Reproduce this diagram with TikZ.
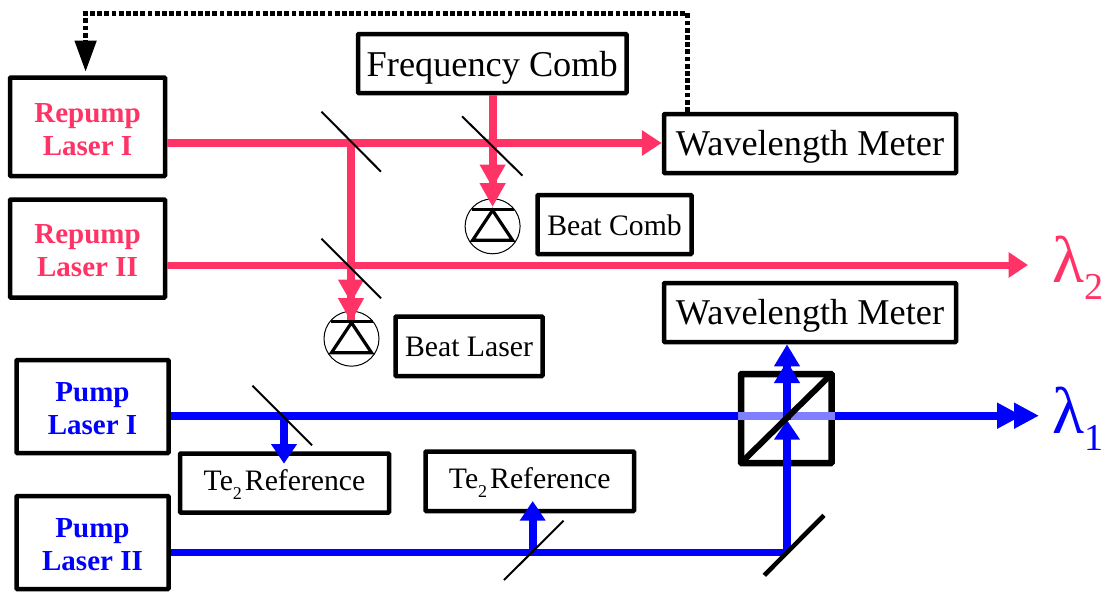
\documentclass[tikz,border=0pt]{standalone}
\usepackage{fontspec}
\setmainfont{Liberation Serif}
\usetikzlibrary{arrows.meta}
\definecolor{rbeam}{HTML}{FF3366}
\definecolor{bbeam}{HTML}{0000FF}
\definecolor{lbeam}{HTML}{8080FF}
\newcommand{\fsz}[1]{\fontsize{#1}{#1}\selectfont}
\newcommand{\TeRef}{Te\raisebox{-9pt}{\fsz{18}2}\hspace{3pt}Reference}
\newcommand{\topst}{\rule{0pt}{24pt}}
\tikzset{
  x=1pt,y=-1pt,
  boxbase/.style={draw=black,line width=4.5pt,fill=white,inner sep=0pt,align=center,rounded corners=0.8pt},
  laserbox/.style={boxbase,font=\fontsize{29}{33}\selectfont\bfseries},
  bigbox/.style={boxbase,font=\fsz{36.3},text depth=0pt},
  smallbox/.style={boxbase,font=\fsz{29.7},text depth=0pt},
  rbm/.style={draw=rbeam,line width=8pt},
  bbm/.style={draw=bbeam,line width=8pt},
  rtip/.style={-{Triangle[length=#1,width=24.5pt,fill=rbeam]}},
  btip/.style={-{Triangle[length=#1,width=24.5pt,fill=bbeam]}},
  thinm/.style={draw=black,line width=2pt},
  thickm/.style={draw=black,line width=4.5pt},
  diode/.style={circle,draw=black,line width=1pt,minimum size=55pt,inner sep=0pt},
  diodeline/.style={draw=black,line width=3.2pt,line join=miter},
  lam/.style={inner sep=0pt,anchor=west},
}
\newcommand{\diodesym}[1]{%
  \draw[diodeline] ([xshift=-21pt,yshift=17pt]#1.center) -- ([xshift=21pt,yshift=17pt]#1.center);
  \draw[diodeline] ([xshift=0pt,yshift=16pt]#1.center) -- ([xshift=-20pt,yshift=-14pt]#1.center) -- ([xshift=20pt,yshift=-14pt]#1.center) -- cycle;
}
\begin{document}
\begin{tikzpicture}
\useasboundingbox (0,0) rectangle (1104,592);
% boxes
\node[laserbox,text=rbeam,minimum width=155pt,minimum height=98.5pt] (RI) at (87.5,126.75) {\topst Repump\\Laser I};
\node[laserbox,text=rbeam,minimum width=155pt,minimum height=98pt] (RII) at (87.5,248.5) {\topst Repump\\Laser II};
\node[laserbox,text=bbeam,minimum width=152pt,minimum height=93pt] (PI) at (92.5,406.5) {\topst Pump\\Laser I};
\node[laserbox,text=bbeam,minimum width=152pt,minimum height=93pt] (PII) at (92.5,542.5) {\topst Pump\\Laser II};
\node[bigbox,text height=25pt,minimum width=268.5pt,minimum height=59pt] (FC) at (492.25,63.5) {Frequency Comb};
\node[bigbox,text height=23pt,minimum width=292pt,minimum height=59pt] (WMa) at (810,143.5) {Wavelength Meter};
\node[bigbox,text height=24.4pt,minimum width=292pt,minimum height=59pt] (WMb) at (810,312.5) {Wavelength Meter};
\node[smallbox,text height=21pt,minimum width=154pt,minimum height=59pt] (BC) at (614.5,224.5) {Beat Comb};
\node[smallbox,text height=19.5pt,minimum width=147pt,minimum height=59.5pt] (BL) at (469,346.25) {Beat Laser};
\node[smallbox,text height=14pt,minimum width=209pt,minimum height=59pt] (TRa) at (284.5,483) {\TeRef};
\node[smallbox,text height=15pt,minimum width=208.5pt,minimum height=59.5pt] (TRb) at (529.75,481.25) {\TeRef};
% photodiodes
\node[diode] (PDa) at (492.6,226.3) {};
\node[diode] (PDb) at (351.5,338.7) {};
% junctions
\coordinate (ja) at (351,143);
\coordinate (jb) at (351,265);
\coordinate (jc) at (492.6,143);
\coordinate (jd) at (284,415.7);
\coordinate (je) at (532.7,552);
\coordinate (jf) at (787,552);
\coordinate (ga) at (492.6,188);
\coordinate (gb) at (492.6,207);
\coordinate (gc) at (351,303);
\coordinate (gd) at (351,322);
\coordinate (ge) at (284,463.7);
\coordinate (gf) at (532.7,501);
\coordinate (lamb) at (1028,265);
\coordinate (lama) at (1022,415.7);
\coordinate (lamc) at (1039,415.7);
\coordinate (up1) at (787,420);
\coordinate (up2) at (787,361);
\coordinate (up3) at (787,344.3);
\coordinate (dga) at (744,460);
\coordinate (dgb) at (828.5,377);
% cube
\node[draw=black,line width=6.5pt,minimum width=90.5pt,minimum height=89pt,inner sep=0pt,rounded corners=0.8pt] (BS) at (786.25,418.5) {};
% red beams
\draw[rbm,rtip=20pt] (RI.east |- ja) -- (WMa.west |- ja);
\draw[rbm,line width=7pt,rtip=19.5pt] (RII.east |- jb) -- (lamb);
\draw[rbm] (ja) -- (gd);
\draw[rbm,rtip=23.5pt] (ja) -- (gc);
\draw[rbm,rtip=24pt] (ja) -- (gd);
\draw[rbm,rtip=23.5pt] (FC.south -| jc) -- (ga);
\draw[rbm,rtip=24pt] (FC.south -| jc) -- (gb);
% blue beams
\draw[bbm] (PI.east |- jd) -- (BS.west |- jd);
\draw[draw=lbeam,line width=8pt] (BS.west |- jd) -- (BS.east |- jd);
\draw[bbm,btip=25pt] (BS.east |- jd) -- (lama);
\draw[bbm,btip=25pt] (BS.east |- jd) -- (lamc);
\draw[bbm,btip=19.5pt] (jd) -- (ge);
\draw[bbm,line width=7pt] (PII.east |- je) -- (jf);
\draw[bbm,btip=19.5pt] (je) -- (gf);
\draw[bbm,btip=19.5pt] (jf) -- (up1);
\draw[bbm,btip=22pt] (up1) -- (up2);
\draw[bbm,btip=22pt] (up1) -- (up3);
% cube diagonal
\draw[draw=black,line width=6pt] (dga) -- (dgb);
% mirrors
\draw[thinm] (321.5,111.7) coordinate (ma1) -- (381,171.7) coordinate (ma2);
\draw[thinm] (462,116.3) coordinate (mb1) -- (522.5,175.7) coordinate (mb2);
\draw[thinm] (321.5,238.7) coordinate (mc1) -- (381,298.3) coordinate (mc2);
\draw[thinm] (252.5,385.7) coordinate (md1) -- (312,445.3) coordinate (md2);
\draw[thinm] (504,580) coordinate (me1) -- (563.6,520.7) coordinate (me2);
\draw[thickm] (764.3,575.3) coordinate (mf1) -- (824,515.3) coordinate (mf2);
% photodiode symbols
\diodesym{PDa}
\diodesym{PDb}
% feedback
\coordinate (fb1) at (WMa.north -| 687.6,0);
\coordinate (fb2) at (687.6,13.3);
\coordinate (fb3) at (85.6,13.3);
\coordinate (fb4) at (85.6,71.7);
\draw[draw=black,line width=4.5pt,dash pattern=on 4.8pt off 2.4pt,-{Triangle[length=31pt,width=21pt,fill=black]}] (fb1) -- (fb2) -- (fb3) -- (fb4);
% lambda labels
\node[lam,text=rbeam] (L2) at (1052,268) {\fsz{66}λ\raisebox{-17pt}{\fsz{38}2}};
\node[lam,text=bbeam] (L1) at (1052,419) {\fsz{66}λ\raisebox{-17pt}{\fsz{38}1}};
\end{tikzpicture}
\end{document}
